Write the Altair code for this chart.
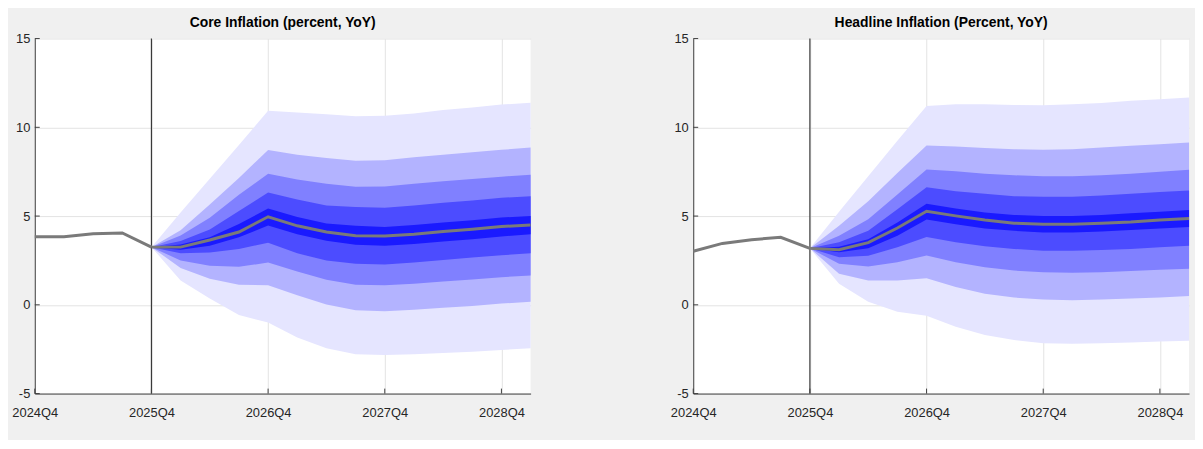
import altair as alt
import pandas as pd

# ---------------- data ----------------
quarters = ["2024Q4", "2025Q1", "2025Q2", "2025Q3", "2025Q4", "2026Q1", "2026Q2", "2026Q3",
            "2026Q4", "2027Q1", "2027Q2", "2027Q3", "2027Q4", "2028Q1", "2028Q2", "2028Q3",
            "2028Q4", "2029Q1"]
tick_labels = ["2024Q4", "2025Q4", "2026Q4", "2027Q4", "2028Q4"]
y_ticks = [-5, 0, 5, 10, 15]
forecast_start = "2025Q4"
hist_quarters = quarters[:5]
fc_quarters = quarters[4:]

core_title = "Core Inflation (percent, YoY)"
core_hist = [3.83, 3.83, 4.00, 4.05, 3.25]
core_median = [3.25, 3.25, 3.65, 4.10, 4.96, 4.45, 4.10, 3.89, 3.88, 3.98, 4.13, 4.26, 4.41, 4.50]
core_hi1 = [3.25, 5.20, 7.10, 9.00, 10.93, 10.84, 10.73, 10.63, 10.65, 10.78, 10.97, 11.12, 11.28, 11.39]
core_hi2 = [3.25, 4.20, 5.65, 7.15, 8.72, 8.45, 8.27, 8.12, 8.15, 8.32, 8.45, 8.60, 8.73, 8.86]
core_hi3 = [3.25, 3.90, 4.90, 6.20, 7.38, 7.06, 6.82, 6.65, 6.66, 6.82, 6.96, 7.09, 7.22, 7.33]
core_hi4 = [3.25, 3.60, 4.25, 5.28, 6.33, 5.94, 5.60, 5.51, 5.47, 5.60, 5.75, 5.88, 6.03, 6.12]
core_hi5 = [3.25, 3.40, 3.80, 4.55, 5.42, 4.95, 4.58, 4.45, 4.39, 4.50, 4.64, 4.77, 4.92, 5.01]
core_lo5 = [3.25, 3.10, 3.33, 3.80, 4.47, 3.98, 3.61, 3.39, 3.33, 3.42, 3.57, 3.70, 3.85, 3.98]
core_lo4 = [3.25, 2.90, 2.95, 3.15, 3.50, 2.90, 2.49, 2.31, 2.27, 2.38, 2.53, 2.66, 2.79, 2.90]
core_lo3 = [3.25, 2.50, 2.20, 2.14, 2.38, 1.88, 1.41, 1.13, 1.10, 1.19, 1.32, 1.43, 1.56, 1.65]
core_lo2 = [3.25, 2.08, 1.47, 1.13, 1.10, 0.54, 0.02, -0.30, -0.36, -0.28, -0.17, -0.06, 0.07, 0.17]
core_lo1 = [3.25, 1.37, 0.35, -0.58, -1.00, -1.84, -2.44, -2.78, -2.82, -2.78, -2.72, -2.65, -2.54, -2.44]

head_title = "Headline Inflation (Percent, YoY)"
head_hist = [3.02, 3.46, 3.67, 3.80, 3.18]
head_median = [3.18, 3.10, 3.50, 4.33, 5.27, 5.01, 4.78, 4.60, 4.54, 4.54, 4.60, 4.67, 4.78, 4.86]
head_hi1 = [3.18, 5.25, 7.24, 9.25, 11.20, 11.30, 11.30, 11.26, 11.25, 11.30, 11.37, 11.49, 11.58, 11.68]
head_hi2 = [3.18, 4.45, 5.84, 7.43, 8.97, 8.92, 8.83, 8.77, 8.73, 8.77, 8.86, 8.96, 9.05, 9.14]
head_hi3 = [3.18, 3.89, 4.82, 6.22, 7.63, 7.52, 7.39, 7.30, 7.24, 7.24, 7.30, 7.39, 7.50, 7.61]
head_hi4 = [3.18, 3.52, 4.17, 5.38, 6.63, 6.40, 6.26, 6.12, 6.09, 6.09, 6.16, 6.26, 6.35, 6.44]
head_hi5 = [3.18, 3.27, 3.70, 4.64, 5.70, 5.42, 5.20, 5.06, 5.01, 5.01, 5.06, 5.16, 5.25, 5.34]
head_lo5 = [3.18, 2.96, 3.18, 3.89, 4.80, 4.54, 4.30, 4.17, 4.08, 4.08, 4.13, 4.21, 4.30, 4.39]
head_lo4 = [3.18, 2.68, 2.77, 3.24, 3.82, 3.52, 3.30, 3.15, 3.05, 3.05, 3.09, 3.15, 3.24, 3.33]
head_lo3 = [3.18, 2.31, 2.16, 2.40, 2.78, 2.40, 2.12, 1.93, 1.84, 1.80, 1.84, 1.90, 1.97, 2.03]
head_lo2 = [3.18, 1.75, 1.37, 1.37, 1.50, 1.00, 0.63, 0.41, 0.30, 0.26, 0.30, 0.35, 0.41, 0.50]
head_lo1 = [3.18, 1.19, 0.17, -0.39, -0.62, -1.23, -1.70, -1.98, -2.16, -2.20, -2.16, -2.12, -2.07, -2.03]

band_colors = ["#e5e5ff", "#b3b3ff", "#8080ff", "#4c4cff", "#1a1aff"]

# ---------------- style ----------------
FONT = "Liberation Sans"
W, H = 500, 358
AXIS_COLOR = "#404040"
GRID_COLOR = "#e3e3e3"
LINE_COLOR = "#7a7a7a"

x_scale = alt.Scale(type="point", domain=quarters, padding=0)
y_scale = alt.Scale(domain=[-5, 15], nice=False, zero=False)
x_axis = alt.Axis(values=tick_labels, title=None, ticks=False, grid=True, gridColor=GRID_COLOR,
                  domainColor=AXIS_COLOR, labelFont=FONT, labelFontSize=13, labelColor="#262626",
                  labelPadding=13, labelAngle=0)
y_axis = alt.Axis(values=y_ticks, title=None, ticks=False, grid=True, gridColor=GRID_COLOR,
                  domainColor=AXIS_COLOR, labelFont=FONT, labelFontSize=13, labelColor="#262626",
                  labelPadding=5, labelExpr="'' + datum.value")


def panel(title, hist, median, his, los):
    layers = []
    grid_base = alt.Chart(pd.DataFrame({"q": [forecast_start], "v": [0.0]})).mark_point(opacity=0).encode(
        x=alt.X("q:N", scale=x_scale, axis=x_axis, sort=quarters),
        y=alt.Y("v:Q", scale=y_scale, axis=y_axis),
    )
    layers.append(grid_base)
    for k, (hi, lo) in enumerate(zip(his, los)):
        df = pd.DataFrame({"q": fc_quarters, "hi": hi, "lo": lo})
        layers.append(
            alt.Chart(df).mark_area(color=band_colors[k], opacity=1, interpolate="linear").encode(
                x=alt.X("q:N", scale=x_scale, axis=x_axis, sort=quarters),
                y=alt.Y("lo:Q", scale=y_scale, axis=y_axis),
                y2="hi:Q",
            )
        )
    df_med = pd.DataFrame({"q": fc_quarters, "v": median})
    df_hist = pd.DataFrame({"q": hist_quarters, "v": hist})
    vline = alt.Chart(pd.DataFrame({"q": [forecast_start]})).mark_rule(color="#3a3a3a", strokeWidth=1.2).encode(
        x=alt.X("q:N", scale=x_scale, axis=x_axis, sort=quarters),
        y=alt.value(0), y2=alt.value(H),
    )
    layers.append(vline)
    for df in (df_med, df_hist):
        layers.append(
            alt.Chart(df).mark_line(color=LINE_COLOR, strokeWidth=3).encode(
                x=alt.X("q:N", scale=x_scale, axis=x_axis, sort=quarters),
                y=alt.Y("v:Q", scale=y_scale, axis=y_axis),
            )
        )
    # inward tick marks
    yt = alt.Chart(pd.DataFrame({"v": y_ticks})).mark_rule(color=AXIS_COLOR, strokeWidth=1).encode(
        y=alt.Y("v:Q", scale=y_scale, axis=y_axis), x=alt.value(0), x2=alt.value(5)
    )
    xt = alt.Chart(pd.DataFrame({"q": tick_labels})).mark_rule(color=AXIS_COLOR, strokeWidth=1).encode(
        x=alt.X("q:N", scale=x_scale, axis=x_axis, sort=quarters), y=alt.value(H), y2=alt.value(H - 5)
    )
    layers += [yt, xt]
    return alt.layer(*layers).properties(
        width=W, height=H,
        title=alt.TitleParams(title, font=FONT, fontSize=14, fontWeight="bold", color="#000000",
                              anchor="middle", offset=3),
    )


left = panel(core_title, core_hist, core_median,
             [core_hi1, core_hi2, core_hi3, core_hi4, core_hi5],
             [core_lo1, core_lo2, core_lo3, core_lo4, core_lo5])
right = panel(head_title, head_hist, head_median,
              [head_hi1, head_hi2, head_hi3, head_hi4, head_hi5],
              [head_lo1, head_lo2, head_lo3, head_lo4, head_lo5])

chart = alt.hconcat(left, right, spacing=134).properties(
    background="#f0f0f0",
    padding={"left": 3, "top": 6, "right": 0, "bottom": 19},
).configure_view(fill="white", stroke=None)

chart.save("out.html", embed_options={"renderer": "svg", "actions": False})
